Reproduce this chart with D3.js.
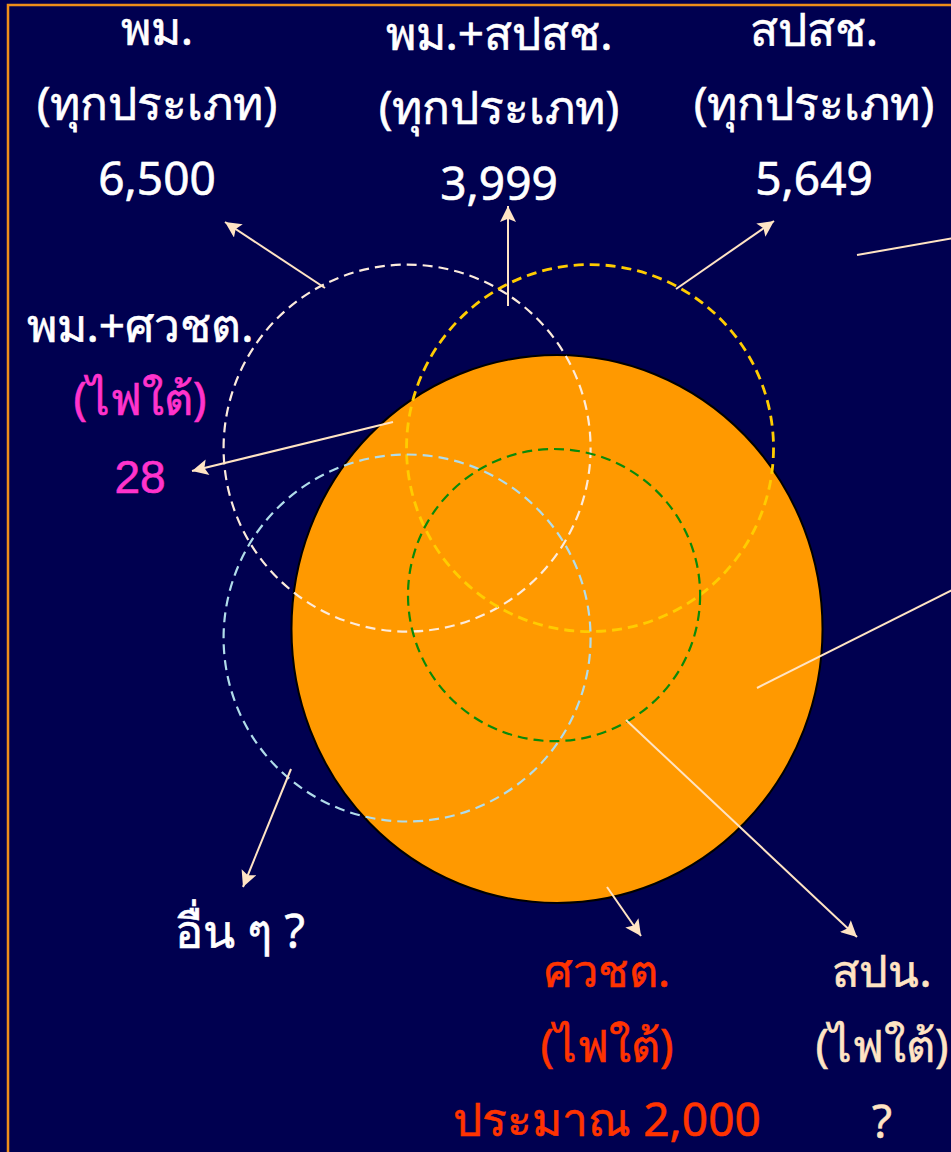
<!DOCTYPE html>
<html>
<head>
<meta charset="utf-8">
<script src="https://cdn.jsdelivr.net/npm/d3@7"></script>
<style>
  html, body { margin: 0; padding: 0; background: #000050; }
  svg { display: block; }
</style>
</head>
<body>
<div id="chart"></div>
<script>
// Agencies / sets and their reported counts
const topNames = ['พม.', 'พม.+สปสช.', 'สปสช.'];
const topTypes = ['(ทุกประเภท)', '(ทุกประเภท)', '(ทุกประเภท)'];
const topCounts = ['6,500', '3,999', '5,649'];

const southNames = ['พม.+ศวชต.', 'ศวชต.', 'สปน.'];
const southTypes = ['(ไฟใต้)', '(ไฟใต้)', '(ไฟใต้)'];
const southCounts = ['28', 'ประมาณ 2,000', '?'];

const otherLabel = 'อื่น ๆ ?';

// Circles of the diagram (set name, centre and radius in diagram units)
const circleSets = ['พม.', 'สปสช.', 'อื่น ๆ', 'สปน.'];
const circleCx = [-0.817, 0.18, -0.817, -0.016];
const circleCy = [-0.986, -0.986, 0.049, -0.185];
const circleR = [1, 1, 1, 0.796];

const width = 951,
    height = 1152,
    unit = 183.5,
    centre = { x: 557, y: 629 };

// diagram units -> pixels
const xScale = d3.scaleLinear().domain([-1, 1]).range([centre.x - unit, centre.x + unit]);
const yScale = d3.scaleLinear().domain([-1, 1]).range([centre.y - unit, centre.y + unit]);
const rScale = d3.scaleLinear().domain([0, 1]).range([0, unit]);

const circleStyle = {
    'พม.': { stroke: '#FCEBDC', width: 2.2 },
    'สปสช.': { stroke: '#FFCC00', width: 2.8 },
    'อื่น ๆ': { stroke: '#B0DCEA', width: 2.2 },
    'สปน.': { stroke: '#0A8A0A', width: 2.2 }
};

const svg = d3.select('#chart')
    .append('svg')
    .attr('width', width)
    .attr('height', height);

svg.append('rect')
    .attr('width', width)
    .attr('height', height)
    .attr('fill', '#000050');

// slide frame
svg.append('rect')
    .attr('x', 8)
    .attr('y', 5)
    .attr('width', width + 20)
    .attr('height', height + 20)
    .attr('fill', 'none')
    .attr('stroke', '#EE8E1A')
    .attr('stroke-width', 2.5);

const defs = svg.append('defs');
defs.append('marker')
    .attr('id', 'head')
    .attr('viewBox', '0 0 10 10')
    .attr('refX', 10)
    .attr('refY', 5)
    .attr('markerWidth', 18)
    .attr('markerHeight', 16)
    .attr('markerUnits', 'userSpaceOnUse')
    .attr('orient', 'auto')
    .append('path')
    .attr('d', 'M0,0 L10,5 L0,10 L2,5 Z')
    .attr('fill', '#FFE4C4');

// big filled set: ศวชต.
svg.append('ellipse')
    .attr('cx', xScale(0))
    .attr('cy', yScale(0))
    .attr('rx', rScale(1.447))
    .attr('ry', rScale(1.493))
    .attr('fill', '#FF9900')
    .attr('stroke', '#000')
    .attr('stroke-width', 2);

svg.append('g')
    .selectAll('circle')
    .data(circleSets)
    .join('circle')
    .attr('cx', (d, i) => xScale(circleCx[i]))
    .attr('cy', (d, i) => yScale(circleCy[i]))
    .attr('r', (d, i) => rScale(circleR[i]))
    .attr('fill', 'none')
    .attr('stroke', d => circleStyle[d].stroke)
    .attr('stroke-width', d => circleStyle[d].width)
    .attr('stroke-dasharray', '10 6');

// leader lines [x1, y1, x2, y2, arrow]
const leaders = [
    [325, 288, 225, 222, true],
    [508, 306, 508, 206, true],
    [676, 289, 774, 221, true],
    [393, 422, 192, 471, true],
    [291, 769, 243, 887, true],
    [607, 887, 641, 936, true],
    [626, 720, 857, 937, true],
    [857, 255, 960, 237, false],
    [757, 688, 960, 586, false]
];

svg.append('g')
    .selectAll('line')
    .data(leaders)
    .join('line')
    .attr('x1', d => d[0])
    .attr('y1', d => d[1])
    .attr('x2', d => d[2])
    .attr('y2', d => d[3])
    .attr('stroke', '#FFE4C4')
    .attr('stroke-width', 2)
    .attr('marker-end', d => d[4] ? 'url(#head)' : null);

const font = "'Noto Sans', 'DejaVu Sans', sans-serif";

function label(x, y, txt, fill, size, fam) {
    return svg.append('text')
        .attr('x', x)
        .attr('y', y)
        .attr('text-anchor', 'middle')
        .attr('fill', fill)
        .attr('stroke', fill)
        .attr('stroke-width', 0.6)
        .style('font-family', fam || font)
        .style('font-size', size + 'px')
        .text(txt);
}

// top row labels
const topX = [157, 499, 814];
const topY = [[45, 120, 195], [50, 124, 200], [46, 120, 195]];
topNames.forEach((n, i) => {
    label(topX[i], topY[i][0], n, '#FFFFFF', 46);
    label(topX[i], topY[i][1], topTypes[i], '#FFFFFF', 46);
    label(topX[i], topY[i][2], topCounts[i], '#FFFFFF', 46);
});

// southern (ไฟใต้) labels
const southX = [140, 607, 882];
const southY = [[342, 415, 493], [987, 1062, 1136], [987, 1062, 1138]];
const southFill = [['#FFFFFF', '#FF33CC', '#FF33CC'],
    ['#FF3300', '#FF3300', '#FF3300'],
    ['#FFE4C4', '#FFE4C4', '#FFE4C4']];
southNames.forEach((n, i) => {
    label(southX[i], southY[i][0], n, southFill[i][0], i === 0 ? 46 : 45);
    label(southX[i], southY[i][1], southTypes[i], southFill[i][1], 45);
    label(southX[i], southY[i][2], southCounts[i], southFill[i][2], 46,
        i === 0 ? "'Liberation Sans', Arial, sans-serif" : font);
});

label(240, 948, otherLabel, '#FFFFFF', 47);
</script>
</body>
</html>
